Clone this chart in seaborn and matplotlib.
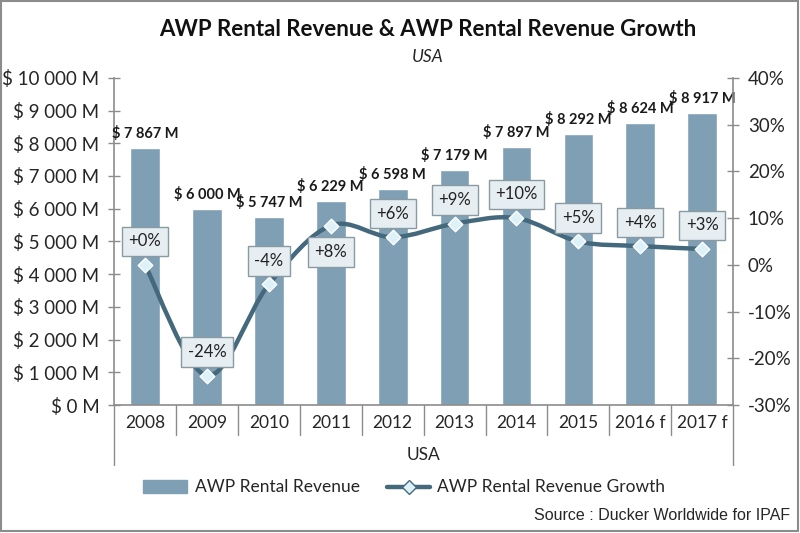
import matplotlib
matplotlib.use("Agg")
import matplotlib.pyplot as plt
import seaborn as sns
import pandas as pd
from matplotlib.path import Path
from matplotlib.patches import PathPatch, Rectangle
from matplotlib.ticker import FuncFormatter, MultipleLocator

# data
years = ["2008", "2009", "2010", "2011", "2012", "2013", "2014", "2015", "2016 f", "2017 f"]
revenue = [7867, 6000, 5747, 6229, 6598, 7179, 7897, 8292, 8624, 8917]
growth = [0.0, -23.7, -4.2, 8.4, 5.9, 8.8, 10.0, 5.0, 4.0, 3.4]
growth_labels = ["+0%", "-24%", "-4%", "+8%", "+6%", "+9%", "+10%", "+5%", "+4%", "+3%"]

BAR = "#7f9fb5"
LINE = "#44697c"
GREY = "#8c8c8c"

sns.set_theme(style="white")
plt.rcParams["font.family"] = ["Lato", "DejaVu Sans"]

df = pd.DataFrame({"year": years, "revenue": revenue, "growth": growth})

fig = plt.figure(figsize=(8, 5.33), dpi=100)
fig.patch.set_facecolor("white")
ax = fig.add_axes([0.1425, 0.240, 0.774, 0.614])

sns.barplot(data=df, x="year", y="revenue", color=BAR, saturation=1, width=0.48, ax=ax, zorder=2)
ax.set_ylim(0, 10000)
ax.set_xlim(-0.5, len(years) - 0.5)
ax.yaxis.set_major_locator(MultipleLocator(1000))


def money(v, pos=None):
    s = f"{int(v):,}".replace(",", " ")
    return f"$ {s} M"


ax.yaxis.set_major_formatter(FuncFormatter(money))
ax.set_xlabel("")
ax.set_ylabel("")
ax.tick_params(axis="y", direction="inout", length=9, width=1, color=GREY, labelsize=13.5, pad=6, left=True)
ax.tick_params(axis="x", length=0, labelsize=12.5, pad=7)
for s in ["top", "right"]:
    ax.spines[s].set_visible(False)
for s in ["left", "bottom"]:
    ax.spines[s].set_color(GREY)
    ax.spines[s].set_linewidth(1.2)

for i, v in enumerate(revenue):
    ax.annotate(money(v), (i, v), xytext=(0, 5), textcoords="offset points",
                ha="center", va="bottom", fontsize=10.5, fontweight="bold", color="#1a1a1a")

# category dividers below the axis
for k in range(len(years) + 1):
    x = k - 0.5
    bottom = -0.183 if k in (0, len(years)) else -0.092
    ax.plot([x, x], [0, bottom], transform=ax.get_xaxis_transform(), color=GREY, lw=1, clip_on=False)
ax.text(0.5, -0.153, "USA", transform=ax.transAxes, ha="center", va="center", fontsize=12.5)

# growth on the right axis
ax2 = ax.twinx()
ax2.set_ylim(-30, 40)
ax2.yaxis.set_major_locator(MultipleLocator(10))
ax2.yaxis.set_major_formatter(FuncFormatter(lambda v, p: f"{int(v)}%"))
ax2.tick_params(axis="y", direction="inout", length=9, width=1, color=GREY, labelsize=13.5, pad=6, right=True)
for s in ["top", "left", "bottom"]:
    ax2.spines[s].set_visible(False)
ax2.spines["right"].set_color(GREY)
ax2.spines["right"].set_linewidth(1.2)
ax2.grid(False)

# smooth (Excel-like) curve through the points
xs = list(range(len(growth)))
verts = [(xs[0], growth[0])]
codes = [Path.MOVETO]
t = 1 / 6
for i in range(len(xs) - 1):
    p0 = (xs[max(i - 1, 0)], growth[max(i - 1, 0)])
    p1 = (xs[i], growth[i])
    p2 = (xs[i + 1], growth[i + 1])
    p3 = (xs[min(i + 2, len(xs) - 1)], growth[min(i + 2, len(xs) - 1)])
    c1 = (p1[0] + (p2[0] - p0[0]) * t, p1[1] + (p2[1] - p0[1]) * t)
    c2 = (p2[0] - (p3[0] - p1[0]) * t, p2[1] - (p3[1] - p1[1]) * t)
    verts += [c1, c2, p2]
    codes += [Path.CURVE4] * 3
ax2.add_patch(PathPatch(Path(verts, codes), fill=False, edgecolor=LINE, lw=3.2, zorder=3, capstyle="round"))
sns.scatterplot(x=xs, y=growth, marker="D", s=55, color="#dcf1f8", edgecolor="white", linewidth=1, ax=ax2, zorder=4)

box = dict(boxstyle="square,pad=0.4", fc="#e6eef2", ec="#8a9aa3", lw=1)
for i, (g, lab) in enumerate(zip(growth, growth_labels)):
    dy = -19 if i == 3 else 17
    ax2.annotate(lab, (i, g), xytext=(0, dy), textcoords="offset points", ha="center", va="center",
                 fontsize=12, color="#222222", bbox=box, zorder=5)

# legend
lax = fig.add_axes([0, 0, 1, 1], facecolor="none")
lax.set_axis_off()
lax.set_xlim(0, 800)
lax.set_ylim(533, 0)
lax.add_patch(Rectangle((143, 480), 44, 13, color=BAR))
lax.text(195, 486.5, "AWP Rental Revenue", ha="left", va="center", fontsize=12.5)
lax.plot([387, 430], [486.5, 486.5], color=LINE, lw=3.2)
lax.plot([408.5], [486.5], marker="D", ms=7, mfc="#dcf1f8", mec=LINE, mew=1)
lax.text(437, 486.5, "AWP Rental Revenue Growth", ha="left", va="center", fontsize=12.5)
lax.text(790, 516, "Source : Ducker Worldwide for IPAF", ha="right", va="center", fontsize=11.5,
         family=["Liberation Sans", "DejaVu Sans"])
lax.add_patch(Rectangle((1, 1), 797, 530, fill=False, ec="#8c8c8c", lw=1.5))

fig.text(428 / 800, 1 - 30 / 533, "AWP Rental Revenue & AWP Rental Revenue Growth", ha="center", va="center",
         fontsize=16, fontweight="bold", color="#111111")
fig.text(428 / 800, 1 - 57 / 533, "USA", ha="center", va="center", fontsize=12.5, style="italic")

fig.savefig("out.png", dpi=100, facecolor="white")
